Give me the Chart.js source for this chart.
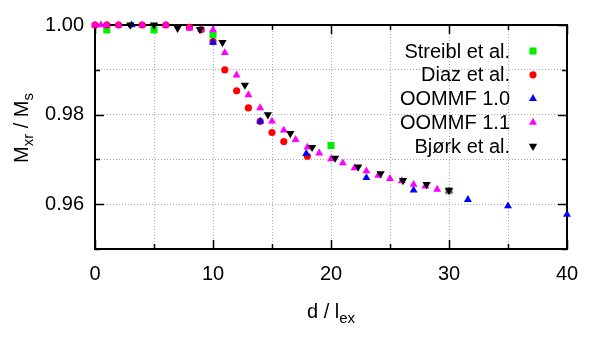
<!DOCTYPE html>
<html lang="en">
<head>
<meta charset="UTF-8">
<title>Mxr / Ms vs d / lex</title>
<script src="https://cdn.jsdelivr.net/npm/chart.js"></script>
<style>
  body { margin: 0; background: #fff; }
  #wrap { width: 600px; height: 350px; }
</style>
</head>
<body>
<div id="wrap"><canvas id="myChart"></canvas></div>
<script>
// values (x = d / lex, y = Mxr / Ms)
const seriesNames = ['Streibl et al.', 'Diaz et al.', 'OOMMF 1.0', 'OOMMF 1.1', 'Bjørk et al.'];

const streiblX = [1, 5, 10, 20, 30];
const streiblY = [0.9989, 0.9989, 0.9978, 0.9731, 0.9630];

const diazX = [0, 1, 2, 4, 6, 8, 9, 10, 11, 12, 13, 14, 15, 16, 18];
const diazY = [1.0, 1.0, 1.0, 1.0, 1.0, 0.9995, 0.9990, 0.9963, 0.9900, 0.9853, 0.9815, 0.9785, 0.9760, 0.9740, 0.9707];

const oommf10X = [3.1, 10, 14, 17.9, 23, 27, 31.6, 35, 40];
const oommf10Y = [1.0, 0.9961, 0.9785, 0.9713, 0.9659, 0.9631, 0.9610, 0.9596, 0.9577];

const oommf11X = [0, 0.5, 1, 2, 4, 6, 8, 9, 10, 11, 12, 13, 14, 15, 16, 17, 18, 19, 20,
                  21, 22, 23, 24, 25, 26, 27, 28, 29, 30];
const oommf11Y = [1.0, 1.0, 1.0, 1.0, 1.0, 1.0, 0.9993, 0.9990, 0.9989, 0.9938, 0.9888, 0.9844, 0.9815, 0.9785, 0.9765, 0.9744, 0.9727, 0.9714, 0.9701,
                  0.9692, 0.9681, 0.9674, 0.9664, 0.9657, 0.9652, 0.9644, 0.9640, 0.9633, 0.9630];

const bjorkX = [3, 5, 7, 8.9, 10.8, 12.7, 14.65, 16.55, 18.4, 20.35, 22.3, 24.2, 26.1, 28.1, 30];
const bjorkY = [1.0, 1.0, 0.9993, 0.9990, 0.9961, 0.9866, 0.9800, 0.9758, 0.9727, 0.9703, 0.9683, 0.9668, 0.9653, 0.9644, 0.9631];

// axis ticks
const xTicks = [0, 5, 10, 15, 20, 25, 30, 35, 40];
const xLabelled = [0, 10, 20, 30, 40];
const yTicks = [0.95, 0.96, 0.97, 0.98, 0.99, 1.00];
const yLabelled = [0.96, 0.98, 1.00];

const FONT = '"Liberation Sans", Arial, sans-serif';

function pts(xs, ys) {
    return xs.map((x, i) => ({ x: x, y: ys[i] }));
}

function isMajorY(v) {
    return yLabelled.some(l => Math.abs(l - v) < 1e-6);
}

// gnuplot-like closed frame with inward ticks on all four sides
const frame = {
    id: 'frame',
    beforeDatasetsDraw(chart) {
        const { ctx, chartArea: a, scales: { x, y } } = chart;
        ctx.save();
        ctx.strokeStyle = '#000';
        ctx.lineWidth = 1.5;
        ctx.beginPath();
        xTicks.forEach(v => {
            const px = Math.round(x.getPixelForValue(v)) + 0.5;
            const len = xLabelled.includes(v) ? 9 : 5;
            ctx.moveTo(px, a.bottom); ctx.lineTo(px, a.bottom - len);
            ctx.moveTo(px, a.top); ctx.lineTo(px, a.top + len);
        });
        yTicks.forEach(v => {
            const py = Math.round(y.getPixelForValue(v)) + 0.5;
            const len = isMajorY(v) ? 9 : 5;
            ctx.moveTo(a.left, py); ctx.lineTo(a.left + len, py);
            ctx.moveTo(a.right, py); ctx.lineTo(a.right - len, py);
        });
        ctx.stroke();
        ctx.lineWidth = 2;
        ctx.strokeRect(a.left, a.top, a.right - a.left, a.bottom - a.top);
        ctx.restore();
    }
};

// key in the top right corner: text right aligned, symbol after it
const keyBox = {
    id: 'keyBox',
    afterDatasetsDraw(chart) {
        const { ctx, chartArea: a } = chart;
        ctx.save();
        ctx.font = '20px ' + FONT;
        ctx.textAlign = 'right';
        ctx.textBaseline = 'middle';
        const sets = chart.data.datasets;
        sets.forEach((ds, i) => {
            const yy = a.top + 26 + i * 23.8;
            ctx.fillStyle = '#000';
            ctx.fillText(ds.label, a.right - 57, yy + 1);
            ctx.fillStyle = ds.backgroundColor;
            ctx.strokeStyle = ds.borderColor;
            Chart.helpers.drawPoint(ctx, {
                pointStyle: ds.pointStyle,
                rotation: ds.rotation || 0,
                radius: ds.pointRadius,
                borderWidth: 0
            }, a.right - 34, yy);
        });
        ctx.restore();
    }
};

// axis titles with subscripts
function subText(ctx, parts, cx, cy) {
    let total = 0;
    parts.forEach(p => {
        ctx.font = (p.sub ? '15px ' : '20px ') + FONT;
        p.w = ctx.measureText(p.t).width;
        total += p.w;
    });
    let xx = cx - total / 2;
    parts.forEach(p => {
        ctx.font = (p.sub ? '15px ' : '20px ') + FONT;
        ctx.fillText(p.t, xx, cy + (p.sub ? 5 : 0));
        xx += p.w;
    });
}

const titles = {
    id: 'titles',
    afterDraw(chart) {
        const { ctx, chartArea: a } = chart;
        ctx.save();
        ctx.fillStyle = '#000';
        ctx.textAlign = 'left';
        ctx.textBaseline = 'alphabetic';
        subText(ctx, [{ t: 'd / l' }, { t: 'ex', sub: true }], (a.left + a.right) / 2, 318);
        ctx.translate(28, 128);
        ctx.rotate(-Math.PI / 2);
        subText(ctx, [{ t: 'M' }, { t: 'xr', sub: true }, { t: ' / M' }, { t: 's', sub: true }], 0, 0);
        ctx.restore();
    }
};

const config = {
    type: 'scatter',
    data: {
        datasets: [{
            label: seriesNames[0],
            data: pts(streiblX, streiblY),
            pointStyle: 'rect',
            pointRadius: 5,
            backgroundColor: '#00ee00',
            borderColor: '#00ee00',
            order: 4
        }, {
            label: seriesNames[1],
            data: pts(diazX, diazY),
            pointStyle: 'circle',
            pointRadius: 3.6,
            backgroundColor: '#ff0000',
            borderColor: '#ff0000',
            order: 3
        }, {
            label: seriesNames[2],
            data: pts(oommf10X, oommf10Y),
            pointStyle: 'triangle',
            pointRadius: 4.6,
            backgroundColor: '#0000ff',
            borderColor: '#0000ff',
            order: 2
        }, {
            label: seriesNames[3],
            data: pts(oommf11X, oommf11Y),
            pointStyle: 'triangle',
            pointRadius: 4.6,
            backgroundColor: '#ff00ff',
            borderColor: '#ff00ff',
            order: 1
        }, {
            label: seriesNames[4],
            data: pts(bjorkX, bjorkY),
            pointStyle: 'triangle',
            rotation: 180,
            pointRadius: 4.8,
            backgroundColor: '#000000',
            borderColor: '#000000',
            order: 0
        }]
    },
    options: {
        responsive: true,
        maintainAspectRatio: false,
        animation: false,
        clip: false,
        elements: { point: { borderWidth: 0, hoverRadius: 5 } },
        layout: { padding: { left: 0, right: 33, top: 25, bottom: 0 } },
        plugins: {
            legend: { display: false },
            tooltip: { enabled: false }
        },
        scales: {
            x: {
                type: 'linear',
                min: 0,
                max: 40,
                afterBuildTicks: s => { s.ticks = xTicks.map(v => ({ value: v })); },
                afterFit: s => { s.height = 101; },
                ticks: {
                    autoSkip: false,
                    maxRotation: 0,
                    padding: 13,
                    color: '#000',
                    font: { family: FONT, size: 20 },
                    callback: v => xLabelled.includes(v) ? String(v) : ''
                },
                grid: { color: '#a8a8a8', lineWidth: 1, drawTicks: false },
                border: { display: false, dash: [1, 2] }
            },
            y: {
                type: 'linear',
                min: 0.95,
                max: 1.0,
                afterBuildTicks: s => { s.ticks = yTicks.map(v => ({ value: v })); },
                afterFit: s => { s.width = 95; },
                ticks: {
                    autoSkip: false,
                    padding: 11,
                    color: '#000',
                    font: { family: FONT, size: 20 },
                    callback: v => isMajorY(v) ? v.toFixed(2) : ''
                },
                grid: { color: '#a8a8a8', lineWidth: 1, drawTicks: false },
                border: { display: false, dash: [1, 2] }
            }
        }
    },
    plugins: [frame, keyBox, titles]
};

var myChart = new Chart(document.getElementById('myChart'), config);
</script>
</body>
</html>
